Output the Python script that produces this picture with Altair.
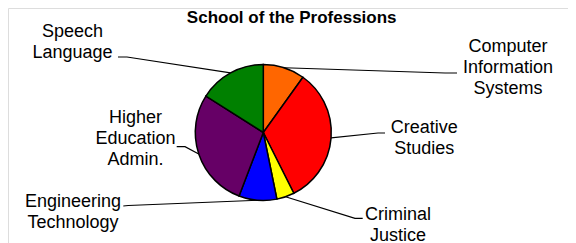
import math
import altair as alt
import pandas as pd

# ---- data ----
categories = ["Computer Information Systems", "Creative Studies", "Criminal Justice",
              "Engineering Technology", "Higher Education Admin.", "Speech Language"]
values = [9.9, 32.7, 4.2, 9.0, 28.2, 16.0]
label_lines = [["Computer", "Information", "Systems"], ["Creative", "Studies"],
               ["Criminal", "Justice"], ["Engineering", "Technology"],
               ["Higher", "Education", "Admin."], ["Speech", "Language"]]
colors = ["#FF6600", "#FF0000", "#FFFF00", "#0000FF", "#660066", "#008000"]
title_text = "School of the Professions"

# ---- layout (pixels inside the chart) ----
W, H = 560, 235
CX, CY, R = 255.3, 124.5, 68
FONT = "Liberation Sans"
label_pos = {  # centre x, first baseline y
    "Computer Information Systems": (500, 43.7),
    "Creative Studies": (416.2, 125.3),
    "Criminal Justice": (390, 212),
    "Engineering Technology": (65, 199.3),
    "Higher Education Admin.": (127.5, 115.3),
    "Speech Language": (64.5, 28.7),
}
leader_pts = {  # elbow, end
    "Computer Information Systems": [(437, 65), (449, 65)],
    "Creative Studies": [(370, 125), (377, 125)],
    "Criminal Justice": [(347, 210.3), (354.7, 210.3)],
    "Engineering Technology": [(120.3, 197.5), (115.3, 198)],
    "Higher Education Admin.": [(177, 138.7), (168.7, 138.7)],
    "Speech Language": [(119, 49), (110, 49)],
}

pie_df = pd.DataFrame({"category": categories, "value": values,
                       "order": list(range(len(categories)))})

total = sum(values)
rows = []
cum = 0.0
for cat, v in zip(categories, values):
    mid = (cum + v / 2) / total * 2 * math.pi
    cum += v
    ax = CX + R * math.sin(mid)
    ay = CY - R * math.cos(mid)
    pts = [(ax, ay)] + leader_pts[cat]
    for i, (px, py) in enumerate(pts):
        rows.append({"category": cat, "i": i, "px": px, "py": py})
lead_df = pd.DataFrame(rows)

lab_df = pd.DataFrame({
    "category": categories,
    "text": ["\n".join(l) for l in label_lines],
    "px": [label_pos[c][0] for c in categories],
    "py": [label_pos[c][1] for c in categories],
})

pie = alt.Chart(pie_df).mark_arc(outerRadius=R, stroke="black", strokeWidth=1.5).encode(
    theta=alt.Theta("value:Q", stack=True),
    color=alt.Color("category:N", scale=alt.Scale(domain=categories, range=colors), legend=None),
    order=alt.Order("order:Q"),
    x=alt.value(CX), y=alt.value(CY),
)

leaders = alt.Chart(lead_df).mark_line(color="black", strokeWidth=1.2).encode(
    x=alt.X("px:Q", scale=None, axis=None),
    y=alt.Y("py:Q", scale=None, axis=None),
    detail="category:N",
    order="i:Q",
)

labels = alt.Chart(lab_df).mark_text(
    lineBreak="\n", align="center", baseline="alphabetic",
    fontSize=18, font=FONT, lineHeight=21, color="black",
).encode(
    x=alt.X("px:Q", scale=None, axis=None),
    y=alt.Y("py:Q", scale=None, axis=None),
    text="text:N",
)

title = alt.Chart(pd.DataFrame({"t": [title_text]})).mark_text(
    align="center", baseline="alphabetic", fontSize=17, fontWeight="bold",
    font=FONT, color="black",
).encode(x=alt.value(283.7), y=alt.value(14.7), text="t:N")

chart = alt.layer(leaders, pie, labels, title).properties(
    width=W, height=H, autosize=alt.AutoSizeParams(type="none"), padding=0,
).configure_view(stroke=None).configure(background="white")

chart.save("out.html", embed_options={"renderer": "svg", "actions": False})
